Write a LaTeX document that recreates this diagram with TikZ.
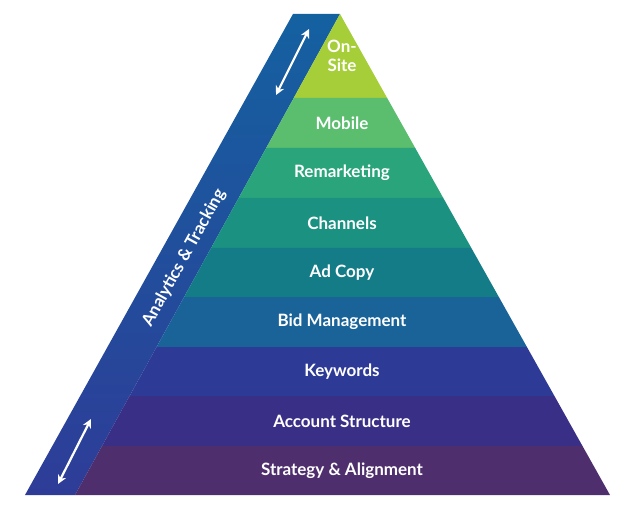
\documentclass[tikz,border=0pt]{standalone}
\usepackage{fontspec}
\setmainfont{Lato}
\usetikzlibrary{arrows.meta}

\definecolor{cOnsite}{HTML}{A6CE39}
\definecolor{cMobile}{HTML}{5BBD6E}
\definecolor{cRemark}{HTML}{2AA57B}
\definecolor{cChannel}{HTML}{1A9181}
\definecolor{cAdcopy}{HTML}{137C87}
\definecolor{cBid}{HTML}{1A6399}
\definecolor{cKeyword}{HTML}{2E3B96}
\definecolor{cAccount}{HTML}{3A2F86}
\definecolor{cStrategy}{HTML}{4F2E6E}
\definecolor{bandTop}{HTML}{1461A0}
\definecolor{bandBot}{HTML}{2E3C98}

\begin{document}
\begin{tikzpicture}
  [x=1pt, y=-1pt,
   layer/.style={text=white, font=\bfseries\fontsize{17}{19}\selectfont, align=center},
   track/.style={white, line width=2.2pt, {Stealth[length=9pt,width=9pt]}-{Stealth[length=9pt,width=9pt]}}
  ]
  \useasboundingbox (0,0) rectangle (631,510);

  % tracking band
  \path[top color=bandTop, bottom color=bandBot]
    (293,14) -- (340,14) -- (75,495) -- (25,495) -- cycle;

  % layers
  \foreach \ya/\yb/\col/\name/\txt in {
      14/98/cOnsite/onsite/{On-\\Site},
      98/148/cMobile/mobile/Mobile,
      148/198/cRemark/remark/Remarketing,
      198/248/cChannel/channels/Channels,
      248/297/cAdcopy/adcopy/Ad Copy,
      297/347/cBid/bid/Bid Management,
      347/396/cKeyword/keywords/Keywords,
      396/446/cAccount/account/Account Structure,
      446/495/cStrategy/strategy/Strategy \& Alignment}
  {
    \pgfmathsetmacro\xla{340-(\ya-14)/481*265}
    \pgfmathsetmacro\xra{340+(\ya-14)/481*270}
    \pgfmathsetmacro\xlb{340-(\yb-14)/481*265}
    \pgfmathsetmacro\xrb{340+(\yb-14)/481*270}
    \fill[\col] (\xla,\ya) -- (\xra,\ya) -- (\xrb,\yb) -- (\xlb,\yb) -- cycle;
    \pgfmathsetmacro\ym{(\ya+\yb)/2}
    \node[layer] (\name) at (342,\ym) {\txt};
  }

  % band label and arrows
  \node[layer, rotate=61.1] (analytics) at (184,258) {Analytics \& Tracking};
  \coordinate (upA) at (309,29);
  \coordinate (upB) at (276,95);
  \coordinate (lowA) at (91,419);
  \coordinate (lowB) at (58,484);
  \draw[track] (upA) -- (upB);
  \draw[track] (lowA) -- (lowB);
\end{tikzpicture}
\end{document}
